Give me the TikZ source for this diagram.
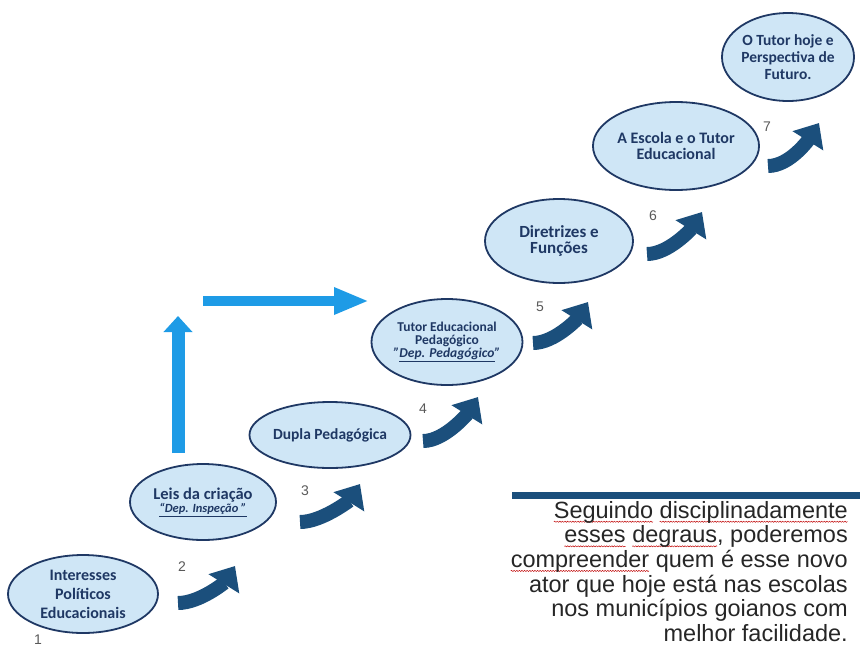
\documentclass[tikz,border=0pt]{standalone}
\usepackage{fontspec}
\setmainfont{Carlito}
\newfontfamily\arial{Liberation Sans}
\usetikzlibrary{arrows.meta,shapes.geometric,decorations.pathmorphing}
\definecolor{azulesc}{RGB}{31,56,100}
\definecolor{azulseta}{RGB}{27,79,124}
\definecolor{azulclaro}{RGB}{207,230,246}
\definecolor{azulvivo}{RGB}{30,155,230}
\newsavebox\wavebox
\newdimen\wavelen
\newcommand\redwave[1]{\sbox\wavebox{#1}\wavelen=\wd\wavebox
  \makebox[0pt][l]{\tikz[overlay]\draw[red!75!black,line width=0.45pt,decorate,decoration={snake,amplitude=0.6pt,segment length=2.6pt}] (0pt,-3.5pt) -- (\wavelen,-3.5pt);}\usebox\wavebox}
\tikzset{
  degrau/.style={ellipse,draw=azulesc,fill=azulclaro,line width=1.8pt,inner sep=0pt,align=center,text=azulesc},
  seta/.style={azulseta,line width=14pt,-{Triangle[length=21pt,width=35pt]}},
  num/.style={font=\arial\fontsize{14}{14}\selectfont,text=black!65}
}
\begin{document}
\begin{tikzpicture}[x=1pt,y=-1pt]
  \useasboundingbox (0,0) rectangle (860,646);
  % degraus
  \node[degrau,minimum width=150,minimum height=78,font=\bfseries\fontsize{16}{19}\selectfont] (e1) at (83,594) {Interesses\\Políticos\\Educacionais};
  \node[degrau,minimum width=146,minimum height=76] (e2) at (203,502) {{\bfseries\fontsize{16.5}{18}\selectfont Leis da criação}\\[1pt]{\fontsize{12.5}{13}\selectfont\bfseries\itshape\underline{“Dep. Inspeção ”}}};
  \node[degrau,minimum width=146,minimum height=66,font=\bfseries\fontsize{15.5}{16}\selectfont] (e3) at (330,435) {Dupla Pedagógica};
  \node[degrau,minimum width=132,minimum height=86,font=\bfseries\fontsize{13.5}{13}\selectfont] (e4) at (447,342) {Tutor Educacional\\Pedagógico\\{\itshape"\underline{Dep. Pedagógico}"}};
  \node[degrau,minimum width=148,minimum height=84,font=\bfseries\fontsize{17}{16}\selectfont] (e5) at (559,241) {Diretrizes e\\Funções};
  \node[degrau,minimum width=152,minimum height=88,font=\bfseries\fontsize{16}{15.5}\selectfont] (e6) at (676,146) {A Escola e o Tutor\\Educacional};
  \node[degrau,minimum width=126,minimum height=88,font=\bfseries\fontsize{15.5}{17}\selectfont] (e7) at (788,57) {O Tutor hoje e\\Perspectiva de\\Futuro.};
  % numeros
  \foreach \n/\x/\y in {1/38/640,2/182/567,3/305/491,4/423/409,5/540/307,6/653/216,7/767/127}
    \node[num] (n\n) at (\x,\y) {\n};
  % setas curvas
  \foreach \tx/\ty/\px/\py in {178/603/235/566,300/522/360/484,423/441/478/397,533/343/588/302,647/254/702/212,768/166/819/123}
    \draw[seta] (\tx,\ty) .. controls +(22,0) and +(-10,16) .. (\px,\py);
  % setas azuis
  \coordinate (v0) at (178,453);
  \coordinate (v1) at (178,316);
  \coordinate (h0) at (203,301);
  \coordinate (h1) at (369,301);
  \draw[azulvivo,line width=13pt,-{Triangle[length=16pt,width=28pt]}] (v0) -- (v1);
  \draw[azulvivo,line width=10pt,-{Triangle[length=35pt,width=25pt]}] (h0) -- (h1);
  % texto final
  \fill[azulseta] (512,492) rectangle (860,499);
  \node[anchor=north east,inner sep=0pt,align=right,text=black!85,font=\arial\fontsize{23.5}{24.6}\selectfont] (txt) at (848,501)
    {\redwave{Seguindo} \redwave{disciplinadamente}\\ \redwave{esses} \redwave{degraus}, poderemos\\ \redwave{compreender} quem é esse novo\\ ator que hoje está nas escolas\\ nos municípios goianos com\\ melhor facilidade.};
\end{tikzpicture}
\end{document}
